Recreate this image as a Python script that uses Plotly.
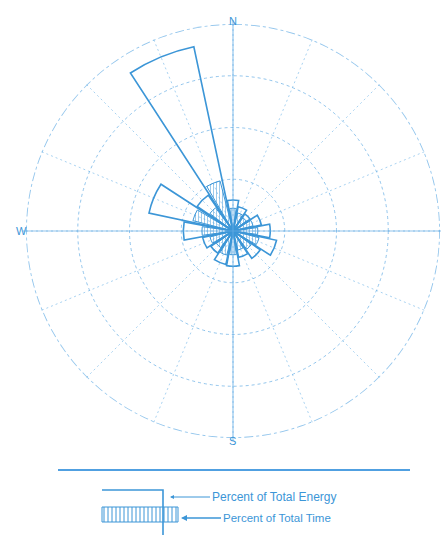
import plotly.graph_objects as go

# ---- data ----
directions = ["N", "NNE", "NE", "ENE", "E", "ESE", "SE", "SSE",
              "S", "SSW", "SW", "WSW", "W", "WNW", "NW", "NNW"]
dir_deg = [0, 22.5, 45, 67.5, 90, 112.5, 135, 157.5,
           180, 202.5, 225, 247.5, 270, 292.5, 315, 337.5]
pct_energy = [3.0, 2.4, 2.0, 2.8, 3.6, 4.3, 3.2, 2.6,
              3.4, 3.3, 2.6, 3.0, 4.8, 8.3, 4.2, 18.2]
pct_time = [2.2, 1.8, 1.6, 2.0, 2.4, 2.6, 2.2, 1.9,
            2.3, 2.4, 2.0, 2.3, 3.0, 4.0, 2.8, 5.0]
ring_ticks = [5, 10, 15]
r_max = 20
compass_labels = ["N", "S", "W"]

W, H = 446, 535
BLUE = "rgb(60,150,215)"
LIGHT = "rgba(100,172,228,0.7)"
SPOKE = "rgba(110,180,232,0.6)"
FONT = "Liberation Sans Narrow, Arial Narrow, sans-serif"

def px(x):
    return x / W

def py(y):
    return 1 - y / H

cx, cy, R = 233, 231, 207

fig = go.Figure()

# outer dashed boundary circle
fig.add_trace(go.Scatterpolar(
    r=[r_max] * 361, theta=list(range(361)), mode="lines",
    line=dict(color=LIGHT, width=1.8, dash="dashdot"),
    hoverinfo="skip", showlegend=False))

# percent of total time (hatched)
fig.add_trace(go.Barpolar(
    r=pct_time, theta=dir_deg, width=[16] * len(dir_deg),
    marker=dict(color="rgba(255,255,255,0)",
                line=dict(color=BLUE, width=1),
                pattern=dict(shape="|", fgcolor=BLUE, bgcolor="rgba(255,255,255,0)",
                             size=3, solidity=0.35)),
    name="Percent of Total Time", showlegend=False))

# percent of total energy (outline)
fig.add_trace(go.Barpolar(
    r=pct_energy, theta=dir_deg, width=[21] * len(dir_deg),
    marker=dict(color="rgba(255,255,255,0)", line=dict(color=BLUE, width=1.6)),
    name="Percent of Total Energy", showlegend=False))

fig.update_layout(
    width=W, height=H, margin=dict(l=0, r=0, t=0, b=0),
    paper_bgcolor="white", plot_bgcolor="white",
    showlegend=False,
    polar=dict(
        barmode="overlay",
        domain=dict(x=[px(cx - R), px(cx + R)], y=[py(cy + R), py(cy - R)]),
        bgcolor="white",
        radialaxis=dict(range=[0, r_max], tickvals=ring_ticks, showticklabels=False,
                        ticks="", showline=False, gridcolor=LIGHT, griddash="dot",
                        gridwidth=1.3),
        angularaxis=dict(rotation=90, direction="clockwise", dtick=22.5,
                         showticklabels=False, ticks="", showline=False,
                         gridcolor=SPOKE, griddash="2px,3px", gridwidth=1.2),
    ),
)

shapes = []
# N-S and E-W solid axes
shapes.append(dict(type="line", xref="paper", yref="paper",
                   x0=px(cx), x1=px(cx), y0=py(20), y1=py(441),
                   line=dict(color=LIGHT, width=1.2)))
shapes.append(dict(type="line", xref="paper", yref="paper",
                   x0=px(23), x1=px(441), y0=py(cy), y1=py(cy),
                   line=dict(color=LIGHT, width=1.2)))
# separator
shapes.append(dict(type="line", xref="paper", yref="paper",
                   x0=px(58), x1=px(410), y0=py(470), y1=py(470),
                   line=dict(color="rgb(80,160,225)", width=2)))
# legend: energy outline
shapes.append(dict(type="path", xref="paper", yref="paper",
                   path=f"M {px(102)},{py(490)} L {px(163)},{py(490)} L {px(163)},{py(535)}",
                   line=dict(color=BLUE, width=1.6)))
# legend: time hatched box
shapes.append(dict(type="rect", xref="paper", yref="paper",
                   x0=px(102), x1=px(178), y0=py(522), y1=py(507),
                   line=dict(color=BLUE, width=1)))
for i in range(19):
    x = 104 + i * 4
    shapes.append(dict(type="line", xref="paper", yref="paper",
                       x0=px(x), x1=px(x), y0=py(522), y1=py(507),
                       line=dict(color=BLUE, width=1)))
fig.update_layout(shapes=shapes)

annotations = []
label_pos = {"N": (cx, 13), "S": (cx, 449), "W": (14, cy)}
for lab in compass_labels:
    x, y = label_pos[lab]
    annotations.append(dict(xref="paper", yref="paper", x=px(x), y=py(y), text=lab,
                            showarrow=False, font=dict(family=FONT, size=11, color=BLUE)))
annotations.append(dict(xref="paper", yref="paper", x=px(170), y=py(497),
                        text="Percent of Total Energy", showarrow=True, ax=40, ay=0,
                        xanchor="left", arrowhead=2, arrowsize=0.8, arrowwidth=1,
                        arrowcolor=BLUE, font=dict(family=FONT, size=12, color=BLUE)))
annotations.append(dict(xref="paper", yref="paper", x=px(181), y=py(518),
                        text="Percent of Total Time", showarrow=True, ax=40, ay=0,
                        xanchor="left", arrowhead=2, arrowsize=0.8, arrowwidth=1.5,
                        arrowcolor=BLUE, font=dict(family=FONT, size=11.5, color=BLUE)))
fig.update_layout(annotations=annotations)

fig.write_html("out.html")
